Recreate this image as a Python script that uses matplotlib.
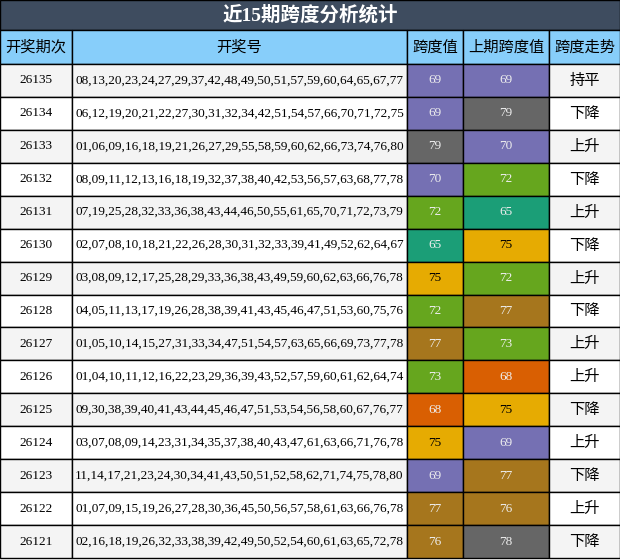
import matplotlib
matplotlib.use("Agg")
import matplotlib.pyplot as plt
from matplotlib.patches import Rectangle

title = "近15期跨度分析统计"
headers = ["开奖期次", "开奖号", "跨度值", "上期跨度值", "跨度走势"]
periods = ["26135","26134","26133","26132","26131","26130","26129","26128","26127","26126","26125","26124","26123","26122","26121"]
numbers = [
"08,13,20,23,24,27,29,37,42,48,49,50,51,57,59,60,64,65,67,77",
"06,12,19,20,21,22,27,30,31,32,34,42,51,54,57,66,70,71,72,75",
"01,06,09,16,18,19,21,26,27,29,55,58,59,60,62,66,73,74,76,80",
"08,09,11,12,13,16,18,19,32,37,38,40,42,53,56,57,63,68,77,78",
"07,19,25,28,32,33,36,38,43,44,46,50,55,61,65,70,71,72,73,79",
"02,07,08,10,18,21,22,26,28,30,31,32,33,39,41,49,52,62,64,67",
"03,08,09,12,17,25,28,29,33,36,38,43,49,59,60,62,63,66,76,78",
"04,05,11,13,17,19,26,28,38,39,41,43,45,46,47,51,53,60,75,76",
"01,05,10,14,15,27,31,33,34,47,51,54,57,63,65,66,69,73,77,78",
"01,04,10,11,12,16,22,23,29,36,39,43,52,57,59,60,61,62,64,74",
"09,30,38,39,40,41,43,44,45,46,47,51,53,54,56,58,60,67,76,77",
"03,07,08,09,14,23,31,34,35,37,38,40,43,47,61,63,66,71,76,78",
"11,14,17,21,23,24,30,34,41,43,50,51,52,58,62,71,74,75,78,80",
"01,07,09,15,19,26,27,28,30,36,45,50,56,57,58,61,63,66,76,78",
"02,16,18,19,26,32,33,38,39,42,49,50,52,54,60,61,63,65,72,78",
]
spans = [69,69,79,70,72,65,75,72,77,73,68,75,69,77,76]
prev_spans = [69,79,70,72,65,75,72,77,73,68,75,69,77,76,78]
trends = ["持平","下降","上升","下降","上升","下降","上升","下降","上升","上升","下降","上升","下降","上升","下降"]

color_map = {65:"#1b9e77",68:"#d95f02",69:"#7570b3",70:"#7570b3",72:"#66a61e",73:"#66a61e",
             75:"#e6ab02",76:"#a6761d",77:"#a6761d",78:"#666666",79:"#666666"}

W, H = 620, 560
fig = plt.figure(figsize=(6.2, 5.6), dpi=100)
ax = fig.add_axes([0, 0, 1, 1])
ax.set_xlim(0, W); ax.set_ylim(H, 0); ax.axis("off")
fam = ["Liberation Serif", "Noto Sans CJK SC"]
cjk = ["Noto Sans CJK SC", "DejaVu Sans"]

xs = [0, 72, 407, 463, 549, 620]
title_h, head_h = 30, 34
row_h = (H - title_h - head_h - 2) / len(periods)

ax.add_patch(Rectangle((0, 0), W, title_h, fc="#3e4c5f", ec="black", lw=1))
ax.text(W/2, title_h/2, title, ha="center", va="center", color="white", fontsize=14,
        fontweight="bold", family=fam)

y0 = title_h
for i, h in enumerate(headers):
    ax.add_patch(Rectangle((xs[i], y0), xs[i+1]-xs[i], head_h, fc="#87cefa", ec="black", lw=1))
    ax.text((xs[i]+xs[i+1])/2, y0+head_h/2, h, ha="center", va="center", fontsize=11, family=cjk)

for r in range(len(periods)):
    y = title_h + head_h + r*row_h
    bg = "#f4f4f4" if r % 2 == 0 else "white"
    vals = [periods[r], numbers[r], str(spans[r]), str(prev_spans[r]), trends[r]]
    for c in range(5):
        fc = bg
        tc = "black"
        if c == 2:
            fc = color_map[spans[r]]; tc = "black" if spans[r] == 75 else "#eeeeee"
        if c == 3:
            fc = color_map[prev_spans[r]]; tc = "black" if prev_spans[r] == 75 else "#eeeeee"
        ax.add_patch(Rectangle((xs[c], y), xs[c+1]-xs[c], row_h, fc=fc, ec="black", lw=1))
        f = cjk if c == 4 else fam
        fs = 11 if c == 4 else 9.5
        ax.text((xs[c]+xs[c+1])/2, y+row_h/2, vals[c], ha="center", va="center",
                fontsize=fs, color=tc, family=f)

fig.savefig("out.png", dpi=100)
